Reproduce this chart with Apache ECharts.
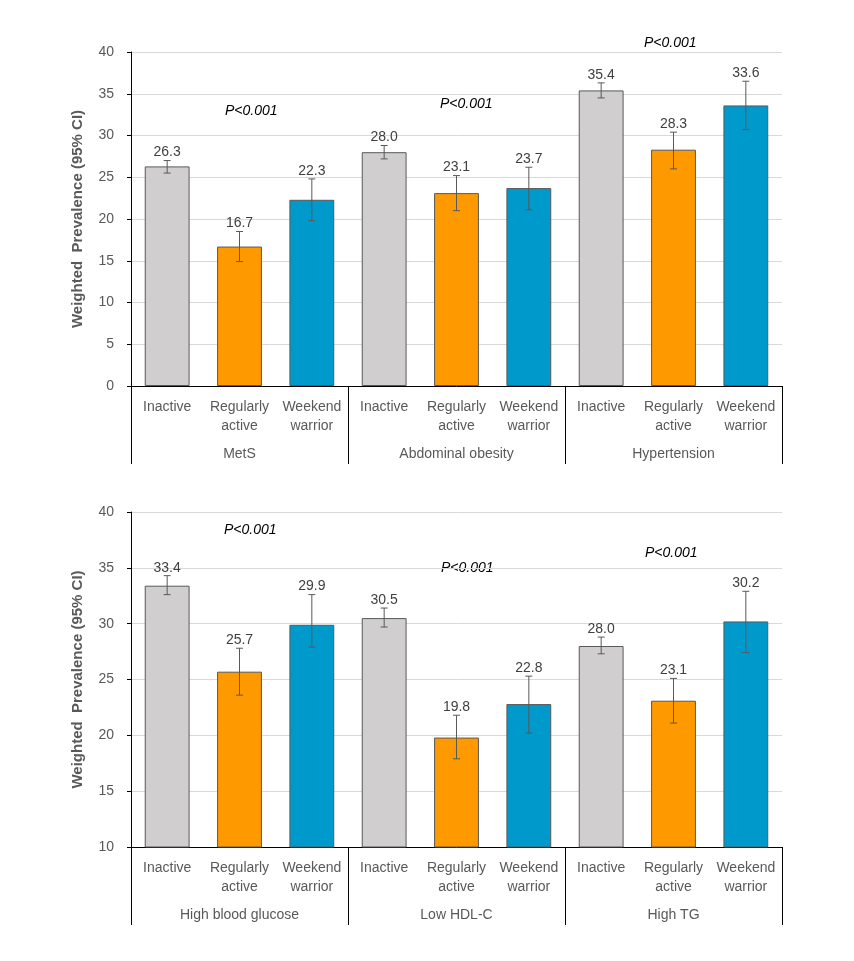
<!DOCTYPE html>
<html>
<head>
<meta charset="utf-8">
<script src="https://cdn.jsdelivr.net/npm/echarts@6/dist/echarts.min.js"></script>
<style>html,body{margin:0;padding:0;background:#fff;}#main{width:854px;height:961px;}</style>
</head>
<body>
<div id="main"></div>
<script>
const categories = ['Inactive', 'Regularly\nactive', 'Weekend\nwarrior'];
const topGroups = ['MetS', 'Abdominal obesity', 'Hypertension'];
const bottomGroups = ['High blood glucose', 'Low HDL-C', 'High TG'];

const topValues = [26.3, 16.7, 22.3, 28.0, 23.1, 23.7, 35.4, 28.3, 33.6];
const topLow    = [25.5, 14.9, 19.8, 27.2, 21.0, 21.1, 34.5, 26.0, 30.7];
const topHigh   = [27.0, 18.5, 24.8, 28.8, 25.2, 26.2, 36.3, 30.4, 36.5];

const bottomValues = [33.4, 25.7, 29.9, 30.5, 19.8, 22.8, 28.0, 23.1, 30.2];
const bottomLow    = [32.6, 23.6, 27.9, 29.7, 17.9, 20.2, 27.3, 21.1, 27.4];
const bottomHigh   = [34.3, 27.8, 32.6, 31.4, 21.8, 25.3, 28.8, 25.1, 32.9];

const pLabel = 'P<0.001';

const barColors = ['#D0CECE', '#FF9900', '#0099CC'];
const subCats = [];
for (let g = 0; g < 3; g++) categories.forEach(c => subCats.push(c));

const chart = echarts.init(document.getElementById('main'));
const font = '"Liberation Sans", Arial, sans-serif';

function xAxes(gridIndex, groups) {
  return [
    {
      type: 'category', gridIndex: gridIndex, data: subCats, position: 'bottom',
      axisLine: {show: true, lineStyle: {color: '#000', width: 1}},
      axisTick: {show: false},
      axisLabel: {interval: 0, color: '#595959', fontSize: 14, fontFamily: font, margin: 12, lineHeight: 19},
      splitLine: {show: false}
    },
    {
      type: 'category', gridIndex: gridIndex, data: groups, position: 'bottom',
      axisLine: {show: false},
      axisTick: {show: true, length: 78, lineStyle: {color: '#000', width: 1}},
      axisLabel: {interval: 0, color: '#595959', fontSize: 14, fontFamily: font, margin: 61},
      splitLine: {show: false}
    }
  ];
}

function yAxis(gridIndex, min) {
  return {
    type: 'value', gridIndex: gridIndex, min: min, max: 40, interval: 5,
    name: 'Weighted  Prevalence (95% CI)', nameLocation: 'middle', nameGap: 46, nameRotate: 90,
    nameTextStyle: {color: '#595959', fontSize: 15, fontWeight: 'bold', fontFamily: font},
    axisLine: {show: true, lineStyle: {color: '#000', width: 1}},
    axisTick: {show: true, length: 4, lineStyle: {color: '#000'}},
    axisLabel: {color: '#595959', fontSize: 14, fontFamily: font, margin: 17},
    splitLine: {show: true, lineStyle: {color: '#D9D9D9', width: 1}}
  };
}

function barSeries(xi, yi, values) {
  return {
    type: 'bar', xAxisIndex: xi, yAxisIndex: yi, barWidth: '62%',
    data: values.map((v, i) => ({value: v, itemStyle: {color: barColors[i % 3]}})),
    itemStyle: {borderColor: '#595959', borderWidth: 1},
    silent: true
  };
}

function errSeries(xi, yi, values, low, high) {
  return {
    type: 'custom', xAxisIndex: xi, yAxisIndex: yi, silent: true, z: 5,
    data: values.map((v, i) => [i, low[i], high[i], v]),
    renderItem: function (params, api) {
      const x = api.value(0);
      const pLo = api.coord([x, api.value(1)]);
      const pHi = api.coord([x, api.value(2)]);
      const cap = 3.5;
      const st = {stroke: '#595959', lineWidth: 1};
      return {
        type: 'group',
        children: [
          {type: 'line', shape: {x1: pLo[0], y1: pLo[1], x2: pHi[0], y2: pHi[1]}, style: st},
          {type: 'line', shape: {x1: pLo[0] - cap, y1: pLo[1], x2: pLo[0] + cap, y2: pLo[1]}, style: st},
          {type: 'line', shape: {x1: pHi[0] - cap, y1: pHi[1], x2: pHi[0] + cap, y2: pHi[1]}, style: st},
          {type: 'text', style: {
            x: pHi[0], y: pHi[1] - 8, text: api.value(3).toFixed(1),
            textAlign: 'center', textVerticalAlign: 'middle',
            fill: '#404040', fontSize: 14, fontFamily: font
          }}
        ]
      };
    }
  };
}

function pText(x, y) {
  return {
    type: 'text', left: x - 28, top: y - 8,
    style: {text: pLabel, fill: '#000', fontSize: 14, fontStyle: 'italic', fontFamily: font}
  };
}

chart.setOption({
  animation: false,
  textStyle: {fontFamily: font},
  grid: [
    {left: 131, width: 651, top: 52, height: 334},
    {left: 131, width: 651, top: 512, height: 335}
  ],
  xAxis: xAxes(0, topGroups).concat(xAxes(1, bottomGroups)),
  yAxis: [yAxis(0, 0), yAxis(1, 10)],
  series: [
    barSeries(0, 0, topValues),
    errSeries(0, 0, topValues, topLow, topHigh),
    barSeries(2, 1, bottomValues),
    errSeries(2, 1, bottomValues, bottomLow, bottomHigh)
  ],
  graphic: [
    pText(253, 112), pText(468, 105), pText(672, 44),
    pText(252, 531), pText(469, 569), pText(673, 554)
  ]
});
</script>
</body>
</html>
